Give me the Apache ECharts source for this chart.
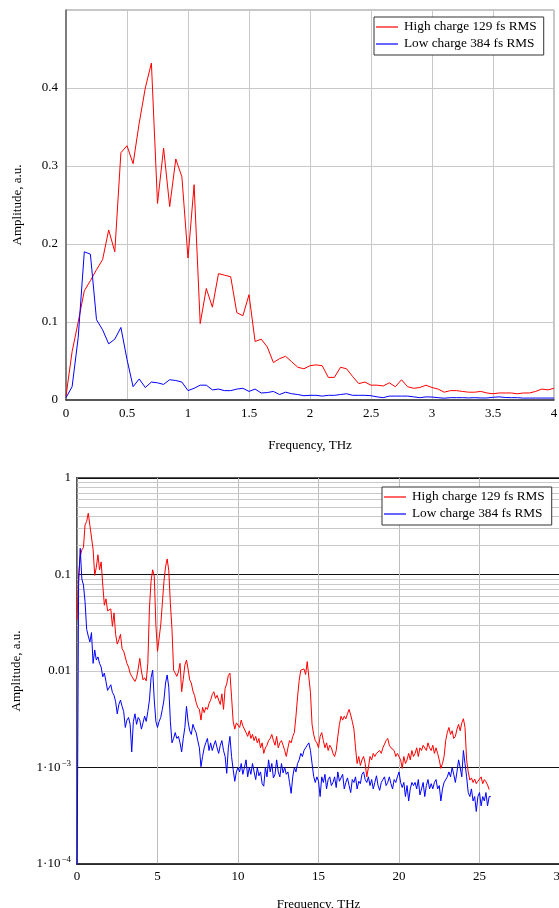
<!DOCTYPE html>
<html><head><meta charset="utf-8">
<script src="https://cdn.jsdelivr.net/npm/echarts@6/dist/echarts.min.js"></script>
<style>html,body{margin:0;padding:0;background:#fff}#c{width:559px;height:908px}</style>
</head><body><div id="c"></div>
<script>
// ---------- data ----------
const seriesNames = ['High charge 129 fs RMS', 'Low charge 384 fs RMS'];
const xTitle = 'Frequency, THz';
const yTitle = 'Amplitude, a.u.';

// Linear chart: frequency step 0.05 THz, 0 .. 4 THz
const topStep = 0.05;
const topHigh = [0.005,0.062,0.100,0.140,0.153,0.167,0.180,0.218,0.190,0.317,
  0.326,0.303,0.355,0.400,0.432,0.252,0.323,0.248,0.309,0.286,
  0.182,0.276,0.098,0.143,0.119,0.162,0.160,0.158,0.112,0.108,
  0.135,0.075,0.078,0.068,0.048,0.053,0.056,0.049,0.042,0.040,
  0.044,0.045,0.044,0.029,0.029,0.042,0.040,0.030,0.021,0.023,
  0.019,0.019,0.018,0.022,0.017,0.026,0.017,0.015,0.016,0.019,
  0.016,0.014,0.010,0.012,0.012,0.011,0.010,0.010,0.011,0.009,
  0.008,0.009,0.009,0.009,0.008,0.009,0.009,0.011,0.014,0.013,0.015];
const topLow = [0.003,0.017,0.080,0.190,0.187,0.103,0.090,0.072,0.078,0.093,
  0.052,0.017,0.027,0.016,0.023,0.022,0.020,0.026,0.025,0.023,
  0.012,0.015,0.019,0.019,0.013,0.014,0.012,0.012,0.014,0.015,
  0.011,0.014,0.009,0.0095,0.011,0.007,0.010,0.008,0.007,0.0055,
  0.006,0.006,0.005,0.006,0.006,0.007,0.008,0.006,0.006,0.006,
  0.0055,0.004,0.003,0.005,0.005,0.005,0.005,0.004,0.003,0.004,
  0.0038,0.003,0.0023,0.003,0.003,0.003,0.0027,0.003,0.0026,0.0026,
  0.0035,0.004,0.0032,0.003,0.003,0.0024,0.0025,0.0025,0.0025,0.0025,0.0025];

// Log chart: frequency step 0.1 THz
const logStep = 0.1;
const logHigh = [
  0.034,0.10,0.153,0.18,0.19,0.326,0.355,0.432,0.323,0.309,
  0.182,0.098,0.119,0.160,0.112,0.135,0.078,0.048,0.056,0.042,
  0.044,0.044,0.029,0.040,0.024,0.019,0.021,0.024,0.017,0.016,
  0.016,0.012,0.011,0.0095,0.0088,0.0092,0.0078,0.0085,0.0105,0.0135,
  0.010,0.0081,0.0085,0.0079,0.012,0.045,0.085,0.112,0.096,0.030,
  0.016,0.016,0.030,0.050,0.085,0.120,0.145,0.110,0.050,0.027,
  0.0102,0.0095,0.0088,0.0098,0.012,0.0061,0.0082,0.0115,0.013,0.0105,
  0.0081,0.0075,0.0062,0.0056,0.0047,0.0042,0.0040,0.0031,0.0042,0.0037,
  0.0042,0.0040,0.0046,0.0050,0.0057,0.0061,0.0052,0.0056,0.0050,0.0045,
  0.0058,0.0040,0.0066,0.0074,0.0090,0.0095,0.0054,0.0030,0.0025,0.0029,
  0.0029,0.0026,0.0031,0.0027,0.0026,0.0023,0.0021,0.0024,0.0020,0.0022,
  0.0019,0.0021,0.0018,0.0020,0.0016,0.0018,0.0014,0.0016,0.0017,0.0019,
  0.0020,0.0022,0.0019,0.0017,0.0021,0.0016,0.0018,0.0019,0.0017,0.0015,
  0.0013,0.0016,0.0019,0.0018,0.0021,0.0023,0.0034,0.0054,0.0080,0.0102,
  0.0098,0.0105,0.0092,0.0125,0.0130,0.0060,0.0028,0.0022,0.0019,0.0018,
  0.0016,0.0021,0.0023,0.0019,0.0016,0.0018,0.0015,0.0017,0.0016,0.0014,
  0.0013,0.0015,0.0021,0.0028,0.0034,0.0031,0.0034,0.0032,0.0036,0.0040,
  0.0035,0.0030,0.0025,0.0016,0.0011,0.0013,0.00105,0.0012,0.0013,0.0011,
  0.0008,0.0010,0.0013,0.0012,0.0014,0.0013,0.0014,0.00135,0.0015,0.0014,
  0.0016,0.00164,0.0019,0.0020,0.0017,0.0016,0.00155,0.0015,0.0013,0.0014,
  0.00135,0.0012,0.00098,0.0013,0.0011,0.0012,0.0014,0.0012,0.0015,0.0013,
  0.0014,0.0016,0.0013,0.0016,0.0015,0.0017,0.00165,0.0015,0.0018,0.0016,
  0.0015,0.0017,0.0014,0.0016,0.0014,0.0012,0.00098,0.0011,0.0013,0.0019,
  0.0023,0.0026,0.0022,0.0024,0.0020,0.0021,0.0025,0.0028,0.0024,0.0029,
  0.0032,0.0026,0.0012,0.00090,0.00074,0.00078,0.00070,0.00076,0.00068,0.00072,
  0.00074,0.00080,0.00068,0.00075,0.00071,0.00066,0.00059];
const logLow = [
  0.00005,0.080,0.187,0.090,0.078,0.052,0.027,0.023,0.020,0.025,
  0.012,0.0165,0.013,0.014,0.012,0.011,0.0087,0.0095,0.0078,0.0063,
  0.0063,0.0072,0.0060,0.0056,0.0048,0.0036,0.0045,0.0050,0.0043,0.0038,
  0.0026,0.0031,0.0033,0.0028,0.00145,0.0030,0.0036,0.0028,0.0033,0.0031,
  0.0025,0.0029,0.0034,0.0030,0.0038,0.0050,0.0085,0.0102,0.0050,0.0030,
  0.0026,0.0030,0.0033,0.0040,0.0050,0.0075,0.0091,0.0068,0.0030,0.0018,
  0.0020,0.0023,0.0020,0.0021,0.0018,0.00145,0.0020,0.0026,0.0043,0.0030,
  0.0024,0.0022,0.0028,0.0025,0.0023,0.0019,0.0016,0.00102,0.0013,0.0016,
  0.0018,0.0020,0.0015,0.0018,0.0015,0.0017,0.0019,0.0016,0.0014,0.0017,
  0.0019,0.0015,0.0013,0.00087,0.0016,0.0021,0.0013,0.00095,0.00072,0.0009,
  0.0010,0.0009,0.0011,0.00085,0.0010,0.0012,0.0008,0.0010,0.00085,0.0011,
  0.0009,0.00075,0.0010,0.00082,0.0009,0.00068,0.00064,0.0010,0.0008,0.0012,
  0.0009,0.0011,0.00078,0.00085,0.0012,0.0009,0.0008,0.0011,0.00088,0.0010,
  0.00085,0.0009,0.0007,0.00054,0.0008,0.0010,0.0009,0.0011,0.0012,0.0014,
  0.0013,0.0015,0.0016,0.0017,0.0018,0.0015,0.0011,0.00081,0.0007,0.0008,
  0.00072,0.0005,0.0008,0.0007,0.00085,0.0006,0.00075,0.0008,0.00065,0.0007,
  0.0008,0.00062,0.0009,0.00072,0.0007,0.00085,0.0006,0.0007,0.00078,0.00065,
  0.00055,0.00075,0.0007,0.0008,0.0006,0.00072,0.00068,0.00085,0.0009,0.00075,
  0.0007,0.0008,0.00065,0.00075,0.0006,0.0007,0.00082,0.00065,0.00058,0.0007,
  0.00075,0.0008,0.00065,0.0007,0.0008,0.00068,0.0006,0.00075,0.0007,0.0008,
  0.0009,0.0007,0.00062,0.0007,0.0005,0.00065,0.00045,0.0006,0.0007,0.00065,
  0.0007,0.0006,0.00075,0.00052,0.0006,0.0007,0.0005,0.00065,0.00075,0.0006,
  0.00068,0.0006,0.0007,0.00075,0.0006,0.00065,0.00045,0.0006,0.0007,0.00068,
  0.0008,0.0009,0.0008,0.0010,0.00085,0.0007,0.0009,0.0012,0.0010,0.0008,
  0.0015,0.0011,0.0008,0.00055,0.0005,0.0006,0.00045,0.0005,0.00035,0.0005,
  0.00055,0.0004,0.0005,0.00045,0.00055,0.0004,0.0005,0.0005];

// log-axis tick labels by decade exponent
const logTickLabels = {'0':'1','-1':'0.1','-2':'0.01','-3':'1·10|−3','-4':'1·10|−4'};
const minorMultipliers = [2,3,4,5,6,7,8,9];
const minorDecades = [-4,-3,-2,-1];

// ---------- chart ----------
const FONT = 'Liberation Serif';
const pairs = (arr, step) => arr.map((v, i) => [+(i * step).toFixed(3), v]);
const minorVals = [];
minorDecades.forEach(k => minorMultipliers.forEach(m => minorVals.push(m * Math.pow(10, k))));

const chart = echarts.init(document.getElementById('c'), null, {renderer: 'canvas'});
const legendBase = {
  orient: 'vertical', data: seriesNames, borderColor: '#333', borderWidth: 1,
  padding: [3, 7, 4, 2], itemWidth: 22, itemHeight: 1.2, itemGap: 3, icon: 'rect',
  backgroundColor: '#fff', z: 20,
  textStyle: {fontFamily: FONT, fontSize: 13.3, color: '#000', lineHeight: 14, padding: [0,0,0,1]}
};
const axisText = {fontFamily: FONT, fontSize: 13, color: '#000'};

chart.setOption({
  animation: false,
  backgroundColor: '#fff',
  grid: [
    {left: 66, top: 10, width: 488, height: 390, show: true, borderColor: '#8a8a8a', borderWidth: 1,
     outerBoundsMode: 'none', containLabel: false},
    {left: 77, top: 478, width: 483, height: 386, show: true, borderColor: '#555', borderWidth: 2,
     outerBoundsMode: 'none', containLabel: false}
  ],
  legend: [
    Object.assign({left: 374, top: 17}, legendBase),
    Object.assign({left: 382, top: 487}, legendBase)
  ],
  xAxis: [
    {type: 'value', gridIndex: 0, min: 0, max: 4, interval: 0.5,
     name: xTitle, nameLocation: 'middle', nameGap: 39, nameTextStyle: axisText,
     axisLine: {lineStyle: {color: '#333', width: 1.5}}, axisTick: {show: false},
     axisLabel: Object.assign({margin: 7}, axisText),
     splitLine: {lineStyle: {color: '#c8c8c8', width: 1}}},
    {type: 'value', gridIndex: 1, min: 0, max: 30, interval: 5,
     name: xTitle, nameLocation: 'middle', nameGap: 34, nameTextStyle: axisText,
     axisLine: {lineStyle: {color: '#333', width: 1.5}}, axisTick: {show: false},
     axisLabel: Object.assign({margin: 6, showMaxLabel: true}, axisText),
     splitLine: {lineStyle: {color: '#bdbdbd', width: 1}}}
  ],
  yAxis: [
    {type: 'value', gridIndex: 0, min: 0, max: 0.5, interval: 0.1,
     name: yTitle, nameLocation: 'middle', nameGap: 42, nameTextStyle: axisText,
     axisLine: {show: true, lineStyle: {color: '#666', width: 1.5}}, axisTick: {show: false},
     axisLabel: Object.assign({margin: 8, formatter: v => (v >= 0.45 ? '' : String(+v.toFixed(1)))}, axisText),
     splitLine: {lineStyle: {color: '#c8c8c8', width: 1}}},
    {type: 'log', gridIndex: 1, logBase: 10, min: 0.0001, max: 1,
     name: yTitle, nameLocation: 'middle', nameGap: 54, nameTextStyle: axisText,
     axisLine: {show: true, lineStyle: {color: '#888', width: 1}}, axisTick: {show: false},
     axisLabel: Object.assign({margin: 6,
       formatter: v => {
         const e = String(Math.round(Math.log10(v)));
         const t = logTickLabels[e];
         if (!t) return '';
         if (t.indexOf('|') < 0) return t;
         const p = t.split('|');
         return '{a|' + p[0] + '}{s|' + p[1] + '}';
       },
       rich: {a: {fontFamily: FONT, fontSize: 13, color: '#000'},
              s: {fontFamily: FONT, fontSize: 9, color: '#000', padding: [0, 0, 8, 1]}}
     }, axisText),
     splitLine: {lineStyle: {color: '#111', width: 1}}}
  ],
  series: [
    {name: seriesNames[0], type: 'line', xAxisIndex: 0, yAxisIndex: 0, symbol: 'none', z: 3,
     lineStyle: {color: '#ff0000', width: 1}, itemStyle: {color: '#ff0000'}, data: pairs(topHigh, topStep)},
    {name: seriesNames[1], type: 'line', xAxisIndex: 0, yAxisIndex: 0, symbol: 'none', z: 3,
     lineStyle: {color: '#0000ff', width: 1}, itemStyle: {color: '#0000ff'}, data: pairs(topLow, topStep)},
    {type: 'line', xAxisIndex: 1, yAxisIndex: 1, symbol: 'none', z: 1, silent: true, data: [],
     markLine: {silent: true, symbol: 'none', label: {show: false}, animation: false, z: 1,
       lineStyle: {color: '#c8c8c8', type: 'solid', width: 1},
       data: minorVals.map(v => ({yAxis: v}))}},
    {name: seriesNames[0], type: 'line', xAxisIndex: 1, yAxisIndex: 1, symbol: 'none', z: 3, clip: true,
     lineStyle: {color: '#ff0000', width: 1}, itemStyle: {color: '#ff0000'}, data: pairs(logHigh, logStep)},
    {name: seriesNames[1], type: 'line', xAxisIndex: 1, yAxisIndex: 1, symbol: 'none', z: 4, clip: true,
     lineStyle: {color: '#0000ff', width: 1}, itemStyle: {color: '#0000ff'}, data: pairs(logLow, logStep)}
  ]
});
</script></body></html>
